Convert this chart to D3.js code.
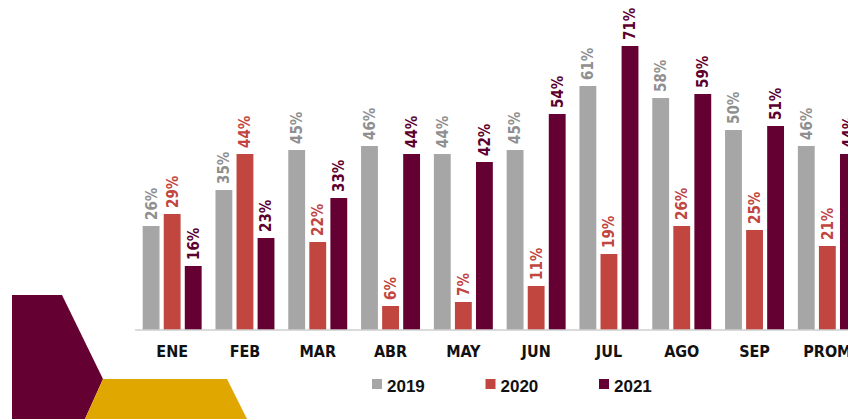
<!DOCTYPE html>
<html>
<head>
<meta charset="utf-8">
<script src="https://cdn.jsdelivr.net/npm/d3@7"></script>
<style>
  body { margin: 0; background: #fff; }
  svg { display: block; }
  .cond { font-family: "DejaVu Sans Condensed", "DejaVu Sans", sans-serif; font-stretch: condensed; font-weight: bold; }
</style>
</head>
<body>
<svg width="848" height="419"></svg>
<script>
const meses = ["ENE", "FEB", "MAR", "ABR", "MAY", "JUN", "JUL", "AGO", "SEP", "PROM"];
const anios = ["2019", "2020", "2021"];
const v2019 = [26, 35, 45, 46, 44, 45, 61, 58, 50, 46];
const v2020 = [29, 44, 22, 6, 7, 11, 19, 26, 25, 21];
const v2021 = [16, 23, 33, 44, 42, 54, 71, 59, 51, 44];
const series = [v2019, v2020, v2021];

const colorBar = d3.scaleOrdinal().domain(anios).range(["#a6a6a6", "#c0463f", "#650033"]);
const colorTxt = d3.scaleOrdinal().domain(anios).range(["#8f8f8f", "#c0463f", "#5c002e"]);

const svg = d3.select("svg"),
    width = +svg.attr("width"),
    height = +svg.attr("height");

// decoración de la esquina
svg.append("polygon")
    .attr("points", "12,295 62,295 103,379 85,419 12,419")
    .attr("fill", "#650033");
svg.append("polygon")
    .attr("points", "103,379 227,379 247,419 85,419")
    .attr("fill", "#e0a700");

const base = 330;

const x0 = d3.scaleBand()
    .domain(meses)
    .range([135.4, 864.1])
    .paddingInner(0.19)
    .paddingOuter(0.1);

const x1 = d3.scaleBand()
    .domain(anios)
    .range([0, x0.bandwidth()])
    .paddingInner(0.2);

const y = d3.scaleLinear()
    .domain([0, 100])
    .range([base, base - 400]);

const datos = meses.map((m, i) => ({
  mes: m,
  valores: anios.map((a, j) => ({ anio: a, v: series[j][i] }))
}));

const grupos = svg.append("g").selectAll("g")
  .data(datos)
  .enter().append("g")
    .attr("transform", d => "translate(" + x0(d.mes) + ",0)");

grupos.selectAll("rect")
  .data(d => d.valores)
  .enter().append("rect")
    .attr("x", d => x1(d.anio))
    .attr("y", d => y(d.v))
    .attr("width", x1.bandwidth())
    .attr("height", d => y(0) - y(d.v))
    .attr("fill", d => colorBar(d.anio));

grupos.selectAll("text")
  .data(d => d.valores)
  .enter().append("text")
    .attr("class", "cond")
    .attr("transform", d => "translate(" + (x1(d.anio) + x1.bandwidth() / 2) + "," + (y(d.v) - 6) + ") rotate(-90)")
    .attr("dy", "0.36em")
    .attr("font-size", 15)
    .attr("fill", d => colorTxt(d.anio))
    .text(d => d.v + "%");

// eje inferior
const eje = svg.append("g")
    .attr("transform", "translate(0," + base + ")")
    .call(d3.axisBottom(x0).tickSize(0).tickPadding(16));
eje.select(".domain")
    .attr("d", "M135,0H" + width)
    .attr("stroke", "#cfcfcf")
    .attr("stroke-width", 1.5);
eje.selectAll("text")
    .attr("class", "cond")
    .attr("font-size", 16)
    .attr("fill", "#111");

// leyenda
const ley = svg.append("g")
    .attr("transform", "translate(372,379)");
const item = ley.selectAll("g")
  .data(anios)
  .enter().append("g")
    .attr("transform", (d, i) => "translate(" + (i * 113.5) + ",0)");
item.append("rect")
    .attr("width", 10)
    .attr("height", 10)
    .attr("fill", d => colorBar(d));
item.append("text")
    .attr("x", 15)
    .attr("y", 13)
    .attr("font-family", "Liberation Sans, Arial, sans-serif")
    .attr("font-weight", "bold")
    .attr("font-size", 17)
    .attr("fill", "#111")
    .text(d => d);
</script>
</body>
</html>
